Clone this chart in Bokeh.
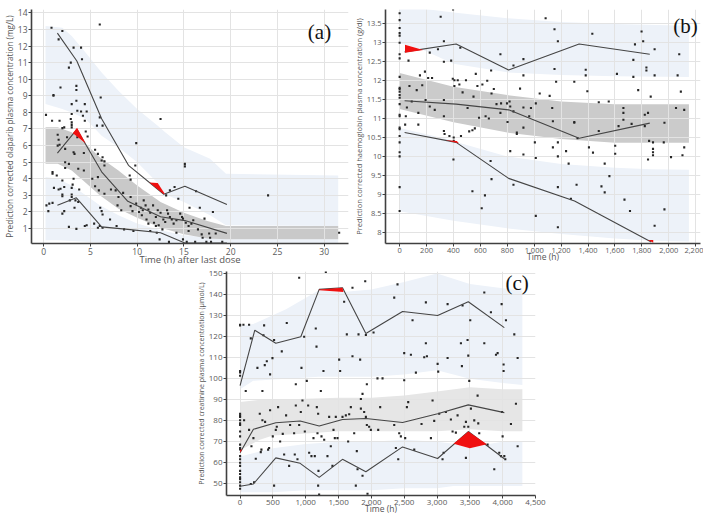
from bokeh.plotting import figure
from bokeh.layouts import row, column
from bokeh.models import Spacer, FixedTicker, NumeralTickFormatter, Label
from bokeh.embed import file_html
from bokeh.resources import INLINE

# ---------------- Panel (a): olaparib ----------------
a_up_x = [0.2, 2.0, 3.0, 4.5, 6.2, 8.0, 10.0, 12.2, 13.0, 15.0, 17.8, 19.5, 31.5]
a_up_hi = [13.2, 13.1, 12.6, 11.6, 10.4, 9.3, 8.2, 7.2, 6.8, 5.9, 5.2, 4.3, 4.2]
a_up_lo = [8.5, 8.2, 8.0, 7.6, 6.6, 5.9, 5.0, 3.75, 3.05, 2.6, 1.8, 1.2, 1.15]
a_mid_x = [0.2, 1.5, 3.0, 4.4, 6.0, 8.0, 10.0, 12.5, 15.0, 17.5, 19.5, 31.5]
a_mid_hi = [7.1, 7.1, 6.8, 6.15, 5.3, 4.5, 3.6, 2.6, 1.95, 1.45, 1.15, 1.15]
a_mid_lo = [4.9, 4.9, 4.5, 3.8, 3.0, 2.2, 1.65, 1.05, 0.65, 0.4, 0.35, 0.35]
a_lo_x = [0.2, 1.5, 3.0, 4.5, 6.0, 8.0, 10.0, 12.5, 15.0, 19.5, 31.5]
a_lo_hi = [4.1, 4.0, 3.6, 3.0, 2.4, 1.8, 1.3, 0.9, 0.6, 0.35, 0.35]
a_lo_lo = [0.3, 0.3, 0.25, 0.2, 0.15, 0.12, 0.1, 0.1, 0.1, 0.1, 0.1]
a_bin_t = [1.47, 3.55, 6.2, 9.07, 12.85, 15.1, 19.6]
a_p95 = [12.78, 11.1, 7.62, 4.81, 3.07, 3.55, 2.45]
a_bin_t_med = [1.47, 3.55, 6.2, 9.0, 12.5, 15.1, 19.6]
a_p50 = [5.55, 6.98, 4.42, 2.64, 1.71, 1.48, 0.71]
a_bin_t_lo = [1.47, 3.5, 6.2, 9.0, 12.5, 15.1, 19.6]
a_p05 = [2.4, 2.85, 1.1, 0.95, 0.75, 0.13, 0.13]
a_red1_x = [3.12, 3.57, 4.5]
a_red1_y = [6.75, 7.07, 6.13]
a_red2_x = [11.3, 12.2, 12.95, 12.85]
a_red2_y = [3.78, 3.75, 3.1, 3.07]
a_points = [(0.84,13.1),(2.0,12.9),(1.6,12.4),(6.0,13.3),(3.2,11.9),(4.0,11.9),(4.1,11.2),(2.9,11.0),
 (2.7,10.7),(3.5,9.6),(3.5,9.35),(1.8,9.5),(1.05,9.05),(1.05,9.0),(6.1,8.9),(3.5,8.7),(3.0,8.5),(4.4,8.5),
 (0.25,7.85),(3.6,8.1),(4.0,8.05),(4.6,8.05),(4.2,7.8),(3.0,7.9),(2.9,7.6),(4.4,7.5),(0.9,7.5),(1.7,7.5),
 (3.0,7.4),(3.0,7.25),(3.0,7.1),(6.0,7.7),(6.3,7.2),(12.5,7.6),(5.7,7.2),(2.2,7.1),(2.0,7.05),(2.5,6.5),
 (3.6,6.5),(4.7,6.55),(4.5,6.85),(1.5,6.65),(1.6,6.35),(1.7,6.05),(1.5,6.0),(9.9,6.15),(2.3,5.8),(5.5,5.75),
 (3.2,5.6),(3.3,5.5),(4.3,5.55),(5.8,5.5),(6.3,5.3),(6.2,5.1),(6.5,5.05),(6.5,4.8),(15.1,4.9),(15.1,4.75),
 (2.3,5.0),(2.7,4.9),(9.8,4.8),(3.7,4.6),(4.3,4.5),(2.3,4.65),(5.2,4.0),(5.8,4.1),(9.2,4.2),(9.3,3.95),
 (0.95,4.4),(0.95,4.3),(1.4,4.2),(2.0,3.9),(3.1,3.65),(3.0,3.45),(3.2,4.0),(3.8,3.35),(1.1,3.45),(1.6,3.35),
 (1.8,3.4),(2.2,3.5),(5.5,3.55),(5.9,3.3),(6.5,3.1),(7.2,3.35),(7.7,3.3),(8.5,3.15),(9.3,2.9),(13.1,3.0),
 (13.5,3.3),(14.0,3.5),(14.4,2.8),(24.0,3.0),(16.3,3.25),(2.0,3.05),(2.0,2.95),(2.8,2.7),(3.0,3.05),(0.3,2.4),
 (0.6,2.5),(0.95,2.55),(0.5,2.05),(2.2,2.05),(2.0,1.9),(3.3,2.25),(6.05,2.25),(6.2,2.05),(6.3,1.85),(7.1,1.55),
 (7.9,2.4),(8.3,2.1),(9.3,2.35),(9.9,2.5),(10.4,2.25),(10.6,2.1),(10.7,2.7),(10.9,2.4),(11.2,2.15),(11.4,1.95),
 (11.7,2.4),(12.0,1.7),(12.2,2.1),(12.5,1.95),(12.8,1.55),(13.2,2.1),(13.3,1.9),(13.5,1.7),(13.7,1.55),(13.9,1.3),
 (14.2,1.5),(14.6,1.9),(14.8,1.7),(14.9,1.6),(15.2,1.35),(15.5,1.15),(15.6,2.25),(15.8,1.3),(16.0,1.5),(16.5,0.95),
 (16.7,2.25),(17.2,1.6),(16.9,0.65),(17.0,0.45),(17.7,0.7),(17.8,0.45),(18.1,2.0),(18.4,0.7),(19.1,0.2),(31.6,0.75),
 (2.7,1.1),(4.4,1.15),(4.6,1.2),(5.4,1.3),(5.8,1.05),(6.0,1.15),(6.3,1.05),(7.8,1.15),(8.6,0.95),(9.6,0.85),
 (11.4,0.85),(12.0,1.15),(12.1,0.75),(12.4,0.35),(12.7,0.95),(13.4,0.2),(14.2,0.75),(14.9,0.35),(15.5,0.85),
 (15.3,0.2),(16.2,0.2),(17.4,0.2),(17.9,0.2),(3.5,0.98),(3.0,2.9),(3.4,2.7),(3.7,2.6),(10.2,2.0),(11.0,1.55),
 (11.2,1.3),(11.8,1.35),(12.3,1.2),(13.0,1.4),(10.5,1.8),(9.5,2.05),(8.0,2.9)]

# ---------------- Panel (b): haemoglobin ----------------
b_up_x = [0, 49, 175, 400, 800, 1200, 1600, 2150]
b_up_hi = [13.95, 13.94, 13.9, 13.8, 13.65, 13.55, 13.5, 13.45]
b_up_lo = [12.98, 12.95, 12.81, 12.45, 12.22, 12.15, 12.12, 12.1]
b_mid_x = [0, 400, 800, 1200, 1600, 2150]
b_mid_hi = [12.2, 11.84, 11.62, 11.45, 11.38, 11.38]
b_mid_lo = [11.25, 10.9, 10.63, 10.46, 10.36, 10.36]
b_lo_x = [0, 400, 440, 800, 1200, 1600, 1875, 2150]
b_lo_hi = [10.75, 10.42, 10.36, 10.0, 9.8, 9.7, 9.66, 9.65]
b_lo_lo = [8.55, 8.3, 8.28, 8.1, 7.95, 7.83, 7.77, 7.75]
b_bin_t = [37, 420, 810, 1334, 1859]
b_p95 = [12.76, 12.97, 12.28, 12.97, 12.7]
b_p50 = [11.47, 11.38, 11.23, 10.48, 10.88]
b_bin_t_lo = [37, 420, 810, 1300, 1870]
b_p05 = [10.63, 10.37, 9.42, 8.82, 7.74]
b_red1_x = [40, 175, 40]
b_red1_y = [12.95, 12.81, 12.74]
b_red2_x = [340, 425, 440]
b_red2_y = [10.43, 10.41, 10.35]
b_red3_x = [1845, 1885, 1885]
b_red3_y = [7.79, 7.79, 7.72]
b_t0_values = [13.78, 13.6, 13.39, 13.26, 13.19, 13.0, 12.7, 12.59, 12.1, 11.81, 11.78, 11.71, 11.62,
               11.55, 11.38, 11.1, 11.06, 10.76, 10.72, 10.54, 10.37, 10.11, 10.0, 9.19, 8.56]
b_points = [(41,10.84),(46,11.06),(54,11.29),(66,12.53),(73,11.86),(90,11.45),(127,11.75),(139,11.15),
 (139,10.84),(151,12.14),(168,11.88),(188,12.24),(193,11.49),(212,12.07),(224,12.74),(224,11.32),(241,12.07),
 (261,11.23),(285,12.83),(305,13.69),(329,13.04),(329,12.5),(329,11.49),(329,11.06),(329,10.67),(334,10.59),
 (370,10.54),(383,12.53),(395,12.05),(397,13.88),(407,12.01),(407,11.86),(402,10.5),(402,10.41),(400,9.92),
 (432,12.01),(444,11.9),(451,12.87),(456,10.54),(468,11.69),(493,12.01),(505,11.28),(517,10.66),(541,10.69),
 (541,9.08),(549,11.58),(559,10.74),(566,12.18),(578,11.86),(590,11.02),(610,8.63),(615,11.9),(634,8.97),
 (639,11.06),(651,12.0),(663,11.0),(676,9.88),(680,12.27),(683,11.66),(683,9.4),(700,11.78),(720,11.38),
 (749,12.7),(749,11.15),(754,11.4),(798,11.4),(802,10.91),(817,11.45),(822,10.14),(822,11.32),(846,12.4),
 (846,11.19),(846,9.25),(871,10.63),(871,10.59),(895,11.79),(920,12.57),(920,12.14),(920,11.29),(920,10.76),
 (920,10.05),(963,11.06),(976,11.28),(1005,10.37),(1012,11.4),(1012,9.96),(1012,8.43),(1041,11.66),(1085,13.65),
 (1115,11.6),(1134,11.28),(1139,10.93),(1139,10.24),(1151,13.36),(1151,12.31),(1163,11.97),(1176,13.04),
 (1176,10.37),(1176,10.0),(1176,9.19),(1176,8.13),(1237,10.14),(1256,9.81),(1273,8.88),(1298,11.97),(1298,10.91),
 (1298,10.89),(1315,9.25),(1322,10.48),(1383,12.29),(1383,12.14),(1395,11.72),(1407,10.24),(1432,13.24),
 (1437,10.1),(1480,10.67),(1480,11.43),(1500,9.21),(1524,9.05),(1524,9.81),(1554,11.45),(1559,9.48),(1602,10.07),
 (1602,10.28),(1615,12.18),(1627,10.8),(1663,11.28),(1663,11.15),(1663,10.97),(1671,8.86),(1712,8.56),(1724,10.86),
 (1737,12.55),(1737,12.1),(1749,12.96),(1773,11.75),(1798,13.3),(1810,13.04),(1822,10.8),(1822,11.1),(1834,12.35),
 (1834,12.27),(1846,11.15),(1846,9.92),(1854,10.41),(1866,11.58),(1883,10.37),(1883,10.2),(1883,10.11),(1883,10.03),
 (1895,12.83),(1895,12.14),(1895,8.17),(1963,10.37),(1968,10.89),(1968,8.6),(2017,9.98),(2054,11.28),(2066,12.14),
 (2078,12.7),(2090,11.71),(2102,10.03),(2115,10.24),(2115,11.23)]

# ---------------- Panel (c): creatinine ----------------
c_up_x = [0, 200, 700, 1200, 1560, 2000, 2500, 3000, 3500, 4000, 4300]
c_up_hi = [125, 126, 133, 142.1, 141.2, 142.5, 146, 150, 145, 143, 142]
c_up_lo = [95, 99, 100, 101, 101, 101, 102, 104, 100, 98, 97]
c_mid_x = [0, 300, 500, 1000, 1500, 2000, 2500, 3000, 3500, 4000, 4300]
c_mid_hi = [89, 90, 90, 90.5, 91, 91, 92, 94, 96, 95, 95]
c_mid_lo = [66, 71, 73, 74, 75, 75, 75, 75, 76, 75, 75]
c_lo_x = [0, 500, 1000, 1500, 2000, 2500, 3000, 3250, 3500, 3760, 4000, 4300]
c_lo_hi = [63, 67, 69, 70, 70, 71, 70, 69.1, 67.0, 68.9, 70, 70]
c_lo_lo = [46, 46, 47, 47, 47, 48, 48, 49, 49, 49, 49, 49]
c_bin_t = [0, 224, 544, 925, 1205, 1560, 1916, 2475, 3009, 3476, 4025]
c_p95 = [96.7, 123.1, 116.9, 120.0, 142.5, 143.3, 121.5, 132.0, 130.1, 136.6, 124.3]
c_bin_t_mid = [0, 203, 544, 915, 1205, 1560, 1916, 2475, 3009, 3476, 4025]
c_p50 = [64.8, 76.0, 79.1, 79.9, 77.5, 80.6, 81.1, 79.2, 83.4, 87.6, 83.9]
c_p05 = [48.9, 50.0, 62.4, 59.8, 53.1, 61.7, 55.8, 67.6, 62.1, 74.9, 62.0]
c_red1_x = [1205, 1560, 1575, 1205]
c_red1_y = [142.5, 143.3, 141.2, 142.1]
c_red2_x = [3252, 3476, 3760, 3500]
c_red2_y = [69.1, 74.9, 68.9, 67.0]
c_red3_x = [0, 35, 0]
c_red3_y = [64.8, 66.6, 66.0]
c_t0_values = [125.7, 125.4, 103.7, 103.0, 101.4, 83.4, 82.6, 81.8, 80.3, 78.8, 78.0, 74.9, 72.6, 68.7,
               67.1, 66.4, 63.2, 61.7, 60.1, 58.6, 56.2, 54.7, 53.1, 52.3, 50.8, 49.2, 47.7]
c_points = [(51,125.7),(61,80.3),(86,94.2),(137,125.7),(137,75.7),(163,119.2),(173,67.9),(163,50.0),(203,71.8),
 (213,50.8),(239,62.0),(264,105.2),(300,83.4),(315,65.1),(325,66.3),(340,94.2),(340,80.3),(356,120.7),(366,125.4),
 (376,106.5),(381,79.5),(407,108.3),(427,66.3),(442,67.1),(457,102.1),(457,85.0),(493,109.8),(498,72.6),(518,118.4),
 (518,49.2),(544,75.7),(559,77.2),(579,86.5),(610,70.2),(635,113.0),(650,73.8),(671,64.0),(701,82.6),(711,126.5),
 (747,58.6),(762,78.0),(823,74.1),(833,64.0),(849,97.4),(849,87.3),(874,61.7),(900,78.0),(900,148.0),(925,84.2),
 (935,105.2),(950,89.7),(976,120.0),(986,74.9),(1016,99.0),(1037,87.3),(1052,64.8),(1087,63.2),(1118,71.8),
 (1138,63.2),(1153,123.9),(1164,115.3),(1169,86.5),(1179,74.1),(1189,83.4),(1189,49.2),(1194,56.2),(1204,44.9),
 (1230,94.2),(1240,72.6),(1270,103.7),(1281,71.0),(1306,150.8),(1331,63.2),(1357,81.9),(1382,67.9),(1407,58.6),
 (1423,75.7),(1443,71.8),(1458,81.9),(1484,71.8),(1509,109.1),(1524,103.7),(1560,81.9),(1585,136.6),(1611,82.6),
 (1626,121.1),(1646,70.2),(1662,83.1),(1687,86.5),(1712,110.7),(1712,143.3),(1738,74.1),(1763,49.2),(1778,65.6),
 (1789,57.0),(1804,121.1),(1829,109.1),(1840,90.4),(1840,85.8),(1865,53.9),(1865,92.8),(1890,84.2),(1906,146.4),
 (1916,120.8),(1916,81.9),(1931,97.4),(1931,78.0),(1941,45.3),(1966,77.2),(1992,75.7),(2033,122.0),(2093,100.2),
 (2104,75.7),(2134,86.5),(2170,100.2),(2348,138.6),(2348,78.0),(2373,67.1),(2398,144.9),(2409,61.7),(2424,74.1),
 (2449,72.6),(2500,112.2),(2500,99.3),(2515,71.8),(2541,86.5),(2561,88.9),(2602,111.4),(2627,127.8),(2653,66.3),
 (2678,102.9),(2764,78.5),(2805,110.2),(2830,116.9),(2830,136.3),(2846,110.7),(2907,71.8),(2932,89.7),(2957,80.0),
 (3009,107.1),(3018,103.4),(3033,83.4),(3084,61.7),(3100,64.8),(3135,84.2),(3161,109.9),(3161,135.5),(3211,80.6),
 (3237,74.9),(3287,74.4),(3313,82.6),(3364,116.9),(3379,106.0),(3389,134.8),(3415,77.2),(3440,79.5),(3440,62.4),
 (3465,118.4),(3476,111.0),(3476,77.2),(3491,99.0),(3506,127.8),(3516,85.8),(3567,80.2),(3618,92.0),(3628,78.8),
 (3643,74.1),(3720,116.9),(3720,141.0),(3770,68.7),(3821,131.6),(3872,57.0),(3898,111.4),(3923,112.2),(3948,64.8),
 (3974,63.2),(3984,135.5),(3989,84.2),(3999,72.6),(4014,103.7),(4014,106.8),(4025,63.2),(4040,61.7),(4050,127.8),
 (4126,78.5),(4177,121.1),(4202,88.1),(4228,109.9),(4228,67.9)]

# ---------------- styling ----------------
BLUE = "#edf2f9"
RED = "#f01010"
LINE = "#454545"
PT = "#262626"
FONT = "Open Sans"


def make_fig(width, height, xr, yr, xticks, yticks, xlabel, ylabel, xfmt, yfmt,
             label_size, xlabel_size, tick_size, mb_left=0, mb_right=2, mb_top=2):
    p = figure(width=width, height=height, x_range=xr, y_range=yr, output_backend="svg",
               toolbar_location=None, min_border_left=mb_left, min_border_right=mb_right,
               min_border_top=mb_top, min_border_bottom=0)
    p.outline_line_color = None
    p.background_fill_color = "white"
    p.border_fill_color = "white"
    p.xaxis.ticker = FixedTicker(ticks=xticks)
    p.yaxis.ticker = FixedTicker(ticks=yticks)
    if xfmt:
        p.xaxis.formatter = NumeralTickFormatter(format=xfmt)
    if yfmt:
        p.yaxis.formatter = NumeralTickFormatter(format=yfmt)
    p.xaxis.axis_label = xlabel
    p.yaxis.axis_label = ylabel
    for ax in (p.xaxis[0], p.yaxis[0]):
        ax.axis_line_color = "#404040"
        ax.axis_line_width = 1.6
        ax.major_tick_line_color = "#404040"
        ax.major_tick_out = 3
        ax.major_tick_in = 0
        ax.minor_tick_out = 0
        ax.minor_tick_in = 0
        ax.major_label_text_font = FONT
        ax.major_label_text_font_size = tick_size
        ax.major_label_text_color = "#5a5a5a"
        ax.axis_label_text_font = FONT
        ax.axis_label_text_font_size = label_size
        ax.axis_label_text_color = "#555555"
        ax.axis_label_text_font_style = "normal"
        ax.axis_label_standoff = 0
        ax.major_label_standoff = 1
    p.xaxis[0].axis_label_text_font_size = xlabel_size
    p.xaxis[0].axis_label_standoff = -5
    p.grid.grid_line_color = "#e3e3e3"
    p.grid.grid_line_width = 1
    return p


def draw(p, up, mid, lo, gray, lines, reds, pts):
    p.varea(x=up[0], y1=up[1], y2=up[2], fill_color=BLUE, level="image")
    p.varea(x=lo[0], y1=lo[1], y2=lo[2], fill_color=BLUE, level="image")
    p.varea(x=mid[0], y1=mid[1], y2=mid[2], fill_color=gray, level="image")
    p.scatter(x=pts[0], y=pts[1], marker="square", size=2.1, fill_color=PT, line_color=None)
    for lx, ly in lines:
        p.line(x=lx, y=ly, line_color=LINE, line_width=1.1)
    for rx, ry in reds:
        p.patch(x=rx, y=ry, fill_color=RED, line_color=None)


# panel a
pa = make_fig(350, 268, (-1.3, 32.6), (0.1, 14.2), [0, 5, 10, 15, 20, 25, 30], list(range(1, 15)),
              "Time (h) after last dose", "Prediction corrected olaparib plasma concentration (mg/L)",
              None, None, "8.2px", "9.5px", "8.5px", mb_left=25, mb_top=4)
draw(pa, (a_up_x, a_up_hi, a_up_lo), (a_mid_x, a_mid_hi, a_mid_lo), (a_lo_x, a_lo_hi, a_lo_lo), "#c9c9c9",
     [(a_bin_t, a_p95), (a_bin_t_med, a_p50), (a_bin_t_lo, a_p05)],
     [(a_red1_x, a_red1_y), (a_red2_x, a_red2_y)],
     ([t for t, c in a_points], [c for t, c in a_points]))
pa.add_layout(Label(x=29.5, y=12.85, text="(a)", text_font="Liberation Serif", text_font_size="21px",
                    text_align="center", text_baseline="middle", text_color="#111111"))

# panel b
pb = make_fig(353, 268, (-105, 2236), (7.7, 13.88), list(range(0, 2201, 200)),
              [8 + 0.5 * i for i in range(12)],
              "Time (h)", "Prediction corrected haemoglobin plasma concentration (g/dl)",
              "0,0", "0.[0]", "7.5px", "8.5px", "7.5px", mb_left=30, mb_right=3, mb_top=9)
b_all_x = [0] * len(b_t0_values) + [t for t, v in b_points]
b_all_y = b_t0_values + [v for t, v in b_points]
draw(pb, (b_up_x, b_up_hi, b_up_lo), (b_mid_x, b_mid_hi, b_mid_lo), (b_lo_x, b_lo_hi, b_lo_lo), "#cbcbcb",
     [(b_bin_t, b_p95), (b_bin_t, b_p50), (b_bin_t_lo, b_p05)],
     [(b_red1_x, b_red1_y), (b_red2_x, b_red2_y), (b_red3_x, b_red3_y)],
     (b_all_x, b_all_y))
pb.add_layout(Label(x=2125, y=13.45, text="(b)", text_font="Liberation Serif", text_font_size="21px",
                    text_align="center", text_baseline="middle", text_color="#111111"))

# panel c
pc = make_fig(358, 248, (-207, 4500), (44.5, 151), list(range(0, 4501, 500)), list(range(50, 151, 10)),
              "Time (h)", "Prediction corrected creatinine plasma concentration (\u03bcmol/L)",
              "0,0", None, "7px", "8.5px", "8px", mb_left=36, mb_right=13, mb_top=3)
c_all_x = [0] * len(c_t0_values) + [t for t, v in c_points]
c_all_y = c_t0_values + [v for t, v in c_points]
draw(pc, (c_up_x, c_up_hi, c_up_lo), (c_mid_x, c_mid_hi, c_mid_lo), (c_lo_x, c_lo_hi, c_lo_lo), "#e6e6e6",
     [(c_bin_t, c_p95), (c_bin_t_mid, c_p50), (c_bin_t_mid, c_p05)],
     [(c_red1_x, c_red1_y), (c_red2_x, c_red2_y), (c_red3_x, c_red3_y)],
     (c_all_x, c_all_y))
pc.add_layout(Label(x=4220, y=145.5, text="(c)", text_font="Liberation Serif", text_font_size="21px",
                    text_align="center", text_baseline="middle", text_color="#111111"))

layout = column(row(pa, pb), row(Spacer(width=190, height=248), pc))
open("out.html", "w").write(file_html(layout, INLINE))
